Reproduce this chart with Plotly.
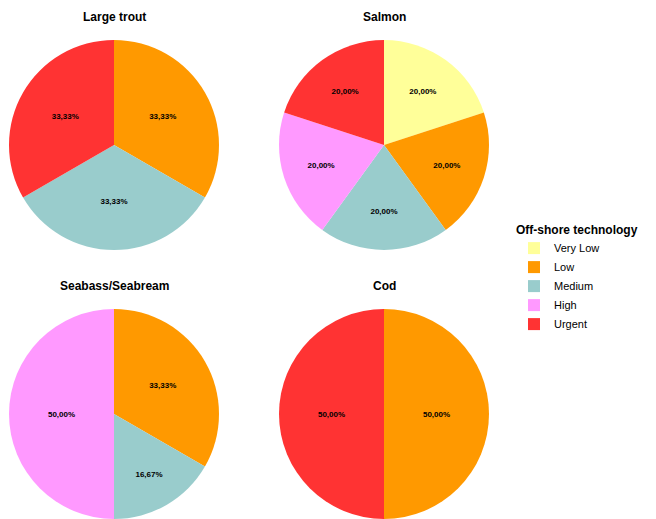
import plotly.graph_objects as go

categories = ["Very Low", "Low", "Medium", "High", "Urgent"]
colors = ["#FFFF99", "#FF9900", "#99CCCC", "#FF99FF", "#FF3333"]

species = ["Large trout", "Salmon", "Seabass/Seabream", "Cod"]
large_trout = [0, 1, 1, 0, 1]
salmon = [1, 1, 1, 1, 1]
seabass = [0, 2, 1, 3, 0]
cod = [0, 1, 0, 0, 1]
series = [large_trout, salmon, seabass, cod]

OFF = 8  # default page body margin
W, H = 656 - OFF, 519 - OFF
# pie centers (page px) and radius
centers = [(114, 145), (384, 145), (114, 414), (384, 414)]
R = 105

def px(x):
    return (x - OFF) / W

def py(y):
    return 1 - (y - OFF) / H

fig = go.Figure()
for name, vals, (cx, cy) in zip(species, series, centers):
    fig.add_trace(go.Pie(
        labels=categories,
        values=vals,
        name=name,
        sort=False,
        direction="clockwise",
        rotation=0,
        marker=dict(colors=colors, line=dict(width=0)),
        texttemplate="%{percent:.2%}",
        textposition="inside",
        insidetextorientation="horizontal",
        textfont=dict(family="Arial, Liberation Sans", size=8, color="black", weight="bold"),
        hoverinfo="label+percent",
        domain=dict(x=[max(0, px(cx - R)), min(1, px(cx + R))],
                    y=[max(0, py(cy + R)), min(1, py(cy - R))]),
        showlegend=True,
    ))
    fig.add_annotation(
        text="<b>%s</b>" % name, x=px(cx), y=min(1, py(cy - R - 32)),
        xref="paper", yref="paper", showarrow=False, xanchor="center", yanchor="top",
        font=dict(family="Arial, Liberation Sans", size=12, color="black"),
    )

fig.update_layout(
    width=W, height=H,
    margin=dict(l=0, r=0, t=0, b=0),
    paper_bgcolor="white",
    plot_bgcolor="white",
    separators=",.",
    legend=dict(
        title=dict(text="<b>Off-shore technology</b>", font=dict(family="Arial, Liberation Sans", size=12, color="black")),
        font=dict(family="Arial, Liberation Sans", size=11, color="black"),
        x=px(514), y=py(218), xanchor="left", yanchor="top",
        traceorder="normal", itemwidth=30, tracegroupgap=0,
        bgcolor="rgba(0,0,0,0)",
    ),
)

fig.write_html("out.html")
